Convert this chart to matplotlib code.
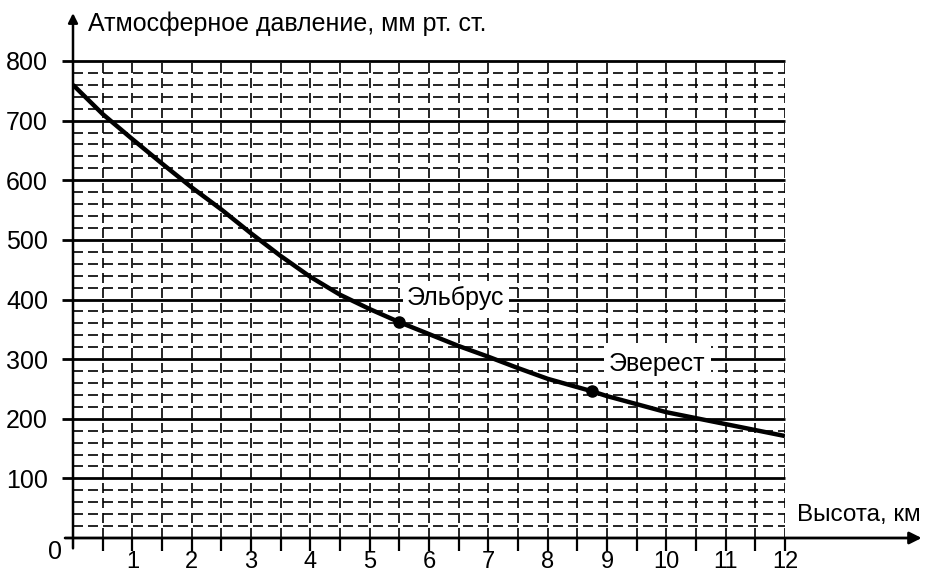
import matplotlib.pyplot as plt
import numpy as np

plt.rcParams['font.family'] = ['Liberation Sans', 'DejaVu Sans']

# высота, км и давление, мм рт. ст.
visota = [0, 0.5, 1, 1.5, 2, 2.5, 3, 3.5, 4, 4.5, 5, 5.5, 6, 6.5, 7, 7.5, 8, 8.75, 9, 10, 11, 12]
davlenie = [760, 711, 669, 628, 588, 551, 511, 473, 438, 408, 384, 362, 342, 322, 304, 285, 267, 246, 238, 211, 191, 171]

gory = ['Эльбрус', 'Эверест']
gory_x = [5.5, 8.75]
gory_y = [362, 246]

xticks = list(range(1, 13))
yticks = [100, 200, 300, 400, 500, 600, 700, 800]

fig = plt.figure(figsize=(9.25, 5.75), dpi=100)
ax = fig.add_axes([73 / 925, 37 / 575, 712 / 925, 477 / 575])
ax.set_xlim(0, 12)
ax.set_ylim(0, 800)
for s in ax.spines.values():
    s.set_visible(False)

# сетка: пунктир через 20 мм и 0.5 км, сплошные линии через 100 мм
minor_y = [v for v in range(20, 800, 20) if v % 100 != 0]
ax.hlines(minor_y, 0, 12, colors='k', lw=1.2, linestyles=(0, (6, 3)))
ax.vlines(np.arange(0.5, 12.01, 0.5), 0, 800, colors='k', lw=1.2, linestyles=(0, (6, 3)))
ax.hlines(yticks, -0.18, 12, colors='k', lw=2, clip_on=False)

# оси со стрелками
ax.annotate('', xy=(14.35, 0), xytext=(-0.18, 0), annotation_clip=False,
            arrowprops=dict(arrowstyle='-|>', lw=2, color='k', mutation_scale=18))
ax.annotate('', xy=(0, 885), xytext=(0, -22), annotation_clip=False,
            arrowprops=dict(arrowstyle='-|>', lw=1.8, color='k', mutation_scale=14))

ax.set_xticks(xticks)
ax.set_xticks(np.arange(0.5, 12, 1), minor=True)
ax.tick_params(axis='x', which='both', direction='out', length=9, width=1.6,
               pad=0, labelsize=17)
ax.set_yticks(yticks)
ax.tick_params(axis='y', length=0, pad=18, labelsize=18)
ax.text(-0.3, -24, '0', fontsize=18, ha='center', va='center')

# кривая
ax.plot(visota, davlenie, color='k', lw=3.2, solid_capstyle='butt',
        solid_joinstyle='round', zorder=5)
ax.plot(gory_x, gory_y, 'o', color='k', ms=8, zorder=6)

ax.text(6.45, 403, gory[0], fontsize=18, ha='center', va='center', zorder=4,
        bbox=dict(facecolor='white', edgecolor='none', pad=3))
ax.text(9.85, 292, gory[1], fontsize=18, ha='center', va='center', zorder=4,
        bbox=dict(facecolor='white', edgecolor='none', pad=4))

ax.text(0.25, 862, 'Атмосферное давление, мм рт. ст.', fontsize=18, ha='left', va='center')
ax.text(12.2, 38, 'Высота, км', fontsize=17.5, ha='left', va='center')

fig.savefig('out.png', dpi=100, facecolor='white')
